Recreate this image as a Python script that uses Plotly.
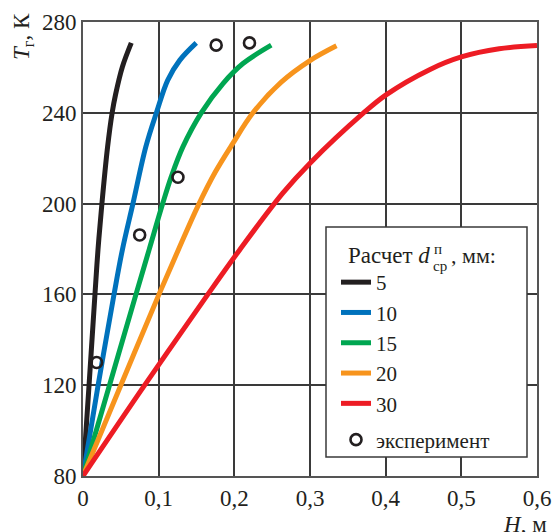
import plotly.graph_objects as go

# ---- data ----
h_5 = [0, 0.008, 0.0158, 0.0198, 0.025, 0.0325, 0.0385, 0.0430, 0.052, 0.0638]
t_5 = [80, 120, 160, 179.6, 200, 225, 240, 248, 260.2, 270.8]

h_10 = [0, 0.020, 0.041, 0.052, 0.066, 0.083, 0.097, 0.112, 0.128, 0.1497]
t_10 = [80, 120, 160, 179.6, 200, 225, 240, 254.4, 263.2, 270.8]

h_15 = [0, 0.035, 0.070, 0.0873, 0.1053, 0.1167, 0.132, 0.1563, 0.185, 0.2114, 0.2488]
t_15 = [80, 120, 160, 179.6, 200, 211.9, 225, 240, 252.9, 261.7, 269.8]

h_20 = [0, 0.050, 0.1004, 0.1265, 0.152, 0.175, 0.198, 0.2246, 0.262, 0.300, 0.335]
t_20 = [80, 120, 160, 180, 199, 214, 226.5, 240, 253.5, 263.0, 269.5]

h_30 = [0, 0.0815, 0.165, 0.207, 0.264, 0.300, 0.370, 0.400, 0.458, 0.500, 0.550, 0.600]
t_30 = [80, 120, 160, 179.6, 204.6, 217.8, 239.7, 247.8, 259.0, 264.6, 268.2, 269.6]

h_exp = [0.018, 0.0749, 0.1255, 0.176, 0.220]
t_exp = [130, 186.2, 211.6, 269.8, 270.8]

series_names = ["5", "10", "15", "20", "30"]
series_colors = ["#231f20", "#0072bc", "#00a651", "#f7941d", "#ed1c24"]

x_tickvals = [0, 0.1, 0.2, 0.3, 0.4, 0.5, 0.6]
x_ticktext = ["0", "0,1", "0,2", "0,3", "0,4", "0,5", "0,6"]
y_tickvals = [80, 120, 160, 200, 240, 280]

FONT = "Liberation Serif"
TXT = "#231f20"

fig = go.Figure()
for name, color, hx, ty in zip(series_names, series_colors,
                                [h_5, h_10, h_15, h_20, h_30],
                                [t_5, t_10, t_15, t_20, t_30]):
    fig.add_trace(go.Scatter(
        x=hx, y=ty, mode="lines", name=name,
        line=dict(color=color, width=5, shape="spline", smoothing=1.0),
        legendgroup="calc",
    ))

fig.add_trace(go.Scatter(
    x=h_exp, y=t_exp, mode="markers", name="эксперимент",
    marker=dict(symbol="circle-open", size=11, color=TXT, line=dict(width=2.6, color=TXT)),
    legendgroup="exp", cliponaxis=False,
))

W, H = 554, 532
# plot area in window pixels: x 83..537, y 22..476
L, R, T, B = 83, 554 - 537, 22, 532 - 476
PW, PH = W - L - R, H - T - B


def px(x):  # window x pixel -> paper
    return (x - L) / PW


def py(y):  # window y pixel -> paper
    return (H - B - y) / PH


def note(text, x, y, size, xanchor="left", angle=0):
    return dict(text=text, xref="paper", yref="paper", x=px(x), y=py(y),
                xanchor=xanchor, yanchor="middle", showarrow=False, textangle=angle,
                font=dict(family=FONT, size=size, color=TXT))


annotations = [
    note("<i>T</i><sub>г</sub>, К", 23, 37, 23, xanchor="center", angle=-90),
    note("<i>H</i>, м", 549, 524, 23, xanchor="right"),
    # legend title with stacked super/subscript
    note("Расчет <i>d</i>", 432, 255, 23, xanchor="right"),
    note("п", 432, 249, 15),
    note("ср", 431, 266, 15),
    note(", мм:", 449, 255, 22),
]

fig.update_layout(
    width=W, height=H,
    margin=dict(l=L, r=R, t=T, b=B, autoexpand=False),
    paper_bgcolor="white", plot_bgcolor="white",
    font=dict(family=FONT, size=23, color=TXT),
    showlegend=True,
    legend=dict(
        x=px(336), y=py(262),
        xanchor="left", yanchor="top",
        bgcolor="rgba(0,0,0,0)", borderwidth=0,
        font=dict(family=FONT, size=21, color=TXT),
        traceorder="grouped", tracegroupgap=6,
        itemwidth=30,
    ),
    shapes=[dict(type="rect", xref="paper", yref="paper",
                 x0=px(326), x1=px(527), y0=py(457), y1=py(227),
                 fillcolor="white", line=dict(color="#3a3a3a", width=1.5), layer="above")],
    xaxis=dict(
        range=[0, 0.6], tickvals=x_tickvals, ticktext=x_ticktext,
        showgrid=True, gridcolor="#3a3a3a", gridwidth=1.5,
        showline=True, linecolor="#555555", linewidth=2, mirror=True,
        zeroline=False, ticks="", tickfont=dict(family=FONT, size=23, color=TXT),
    ),
    yaxis=dict(
        range=[80, 280], tickvals=y_tickvals,
        showgrid=True, gridcolor="#3a3a3a", gridwidth=1.5,
        showline=True, linecolor="#555555", linewidth=2, mirror=True,
        zeroline=False, ticks="", tickfont=dict(family=FONT, size=23, color=TXT),
    ),
    annotations=annotations,
)

fig.write_html(
    "out.html",
    config={"displayModeBar": False},
    post_script="document.body.style.margin='0';document.body.style.overflow='hidden';",
)
